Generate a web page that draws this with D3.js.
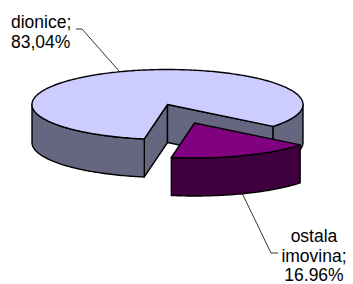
<!DOCTYPE html>
<html>
<head>
<meta charset="utf-8">
<script src="https://cdn.jsdelivr.net/npm/d3@7"></script>
<style>
  html, body { margin: 0; padding: 0; background: #fff; }
  svg { display: block; }
  text { font-family: Arial, "Liberation Sans", sans-serif; font-size: 17.5px; fill: #000; }
</style>
</head>
<body>
<script>
// 3D pie, Excel style: one slice pulled out to the front.
const categories = ["dionice", "ostala imovina"];
const values = [83.04, 16.96];
const valueLabels = ["83,04%", "16.96%"];
const labelLines = [["dionice;", "83,04%"], ["ostala", "imovina;", "16.96%"]];
const topColors = ["#ccccff", "#800080"];
const sideColors = ["#666680", "#400040"];
const exploded = [0, 0.565];

const W = 353, H = 284;
const cx = 167.5, cy = 104.5, rx = 135.5, ry = 35, depth = 38;

const svg = d3.select("body").append("svg").attr("width", W).attr("height", H);

const deg = Math.PI / 180;
// d3.pie measures from 12 o'clock; screen parametric angle t = a - 90deg
const start = 189.85 * deg;
const pie = d3.pie().sort(null).startAngle(start).endAngle(start + 2 * Math.PI);
const arcs = pie(values).map((d, i) => {
  const t0 = d.startAngle - Math.PI / 2, t1 = d.endAngle - Math.PI / 2;
  const tm = (t0 + t1) / 2;
  const k = exploded[i];
  return { i, t0, t1, tm, dx: k * rx * Math.cos(tm), dy: k * ry * Math.sin(tm) };
});

const pt = (a, t, z = 0) => [cx + a.dx + rx * Math.cos(t), cy + a.dy + ry * Math.sin(t) + z];
const ctr = (a, z = 0) => [cx + a.dx, cy + a.dy + z];
const sample = (t0, t1) => {
  const n = Math.max(2, Math.ceil(Math.abs(t1 - t0) / deg));
  return d3.range(n + 1).map(j => t0 + (t1 - t0) * j / n);
};
const line = d3.line();

function topPath(a) {
  return line([ctr(a), ...sample(a.t0, a.t1).map(t => pt(a, t))]) + "Z";
}
// outer wall, only the front half (sin t > 0) shows
function wallPaths(a) {
  const out = [];
  for (let k = -1; k <= 2; k++) {
    const lo = Math.max(a.t0, k * 2 * Math.PI), hi = Math.min(a.t1, k * 2 * Math.PI + Math.PI);
    if (hi > lo) {
      const ts = sample(lo, hi);
      out.push(line([...ts.map(t => pt(a, t)), ...ts.slice().reverse().map(t => pt(a, t, depth))]) + "Z");
    }
  }
  return out;
}
// radial cut faces, drawn when their normal points at the viewer
function cutPaths(a) {
  const faces = [[a.t0, -Math.cos(a.t0)], [a.t1, Math.cos(a.t1)]];
  return faces.filter(f => f[1] > 0)
    .map(([t]) => line([ctr(a), pt(a, t), pt(a, t, depth), ctr(a, depth)]) + "Z");
}

const g = svg.append("g")
  .attr("stroke", "#000").attr("stroke-width", 1.4).attr("stroke-linejoin", "round");

// back slice first, pulled-out slice on top
arcs.forEach(a => {
  cutPaths(a).forEach(p => g.append("path").attr("d", p).attr("fill", sideColors[a.i]));
  wallPaths(a).forEach(p => g.append("path").attr("d", p).attr("fill", sideColors[a.i]));
  g.append("path").attr("d", topPath(a)).attr("fill", topColors[a.i]);
});

// labels with leader lines
const lead = svg.append("g").attr("stroke", "#000").attr("stroke-width", 0.8).attr("fill", "none");
const a0 = arcs[0], a1 = arcs[1];
lead.append("path").attr("d", line([pt(a0, a0.tm), [82, 29], [76, 29]]));
lead.append("path").attr("d", line([pt(a1, a1.tm, depth), [271, 253], [278, 253]]));

const lh = 19.5;
svg.append("text").attr("x", 11).attr("y", 28)
  .selectAll("tspan").data(labelLines[0]).join("tspan")
  .attr("x", 11).attr("dy", (d, j) => j ? lh : 0).text(d => d);
svg.append("text").attr("x", 314).attr("y", 242).attr("text-anchor", "middle")
  .selectAll("tspan").data(labelLines[1]).join("tspan")
  .attr("x", 314).attr("dy", (d, j) => j ? lh : 0).text(d => d);
</script>
</body>
</html>
